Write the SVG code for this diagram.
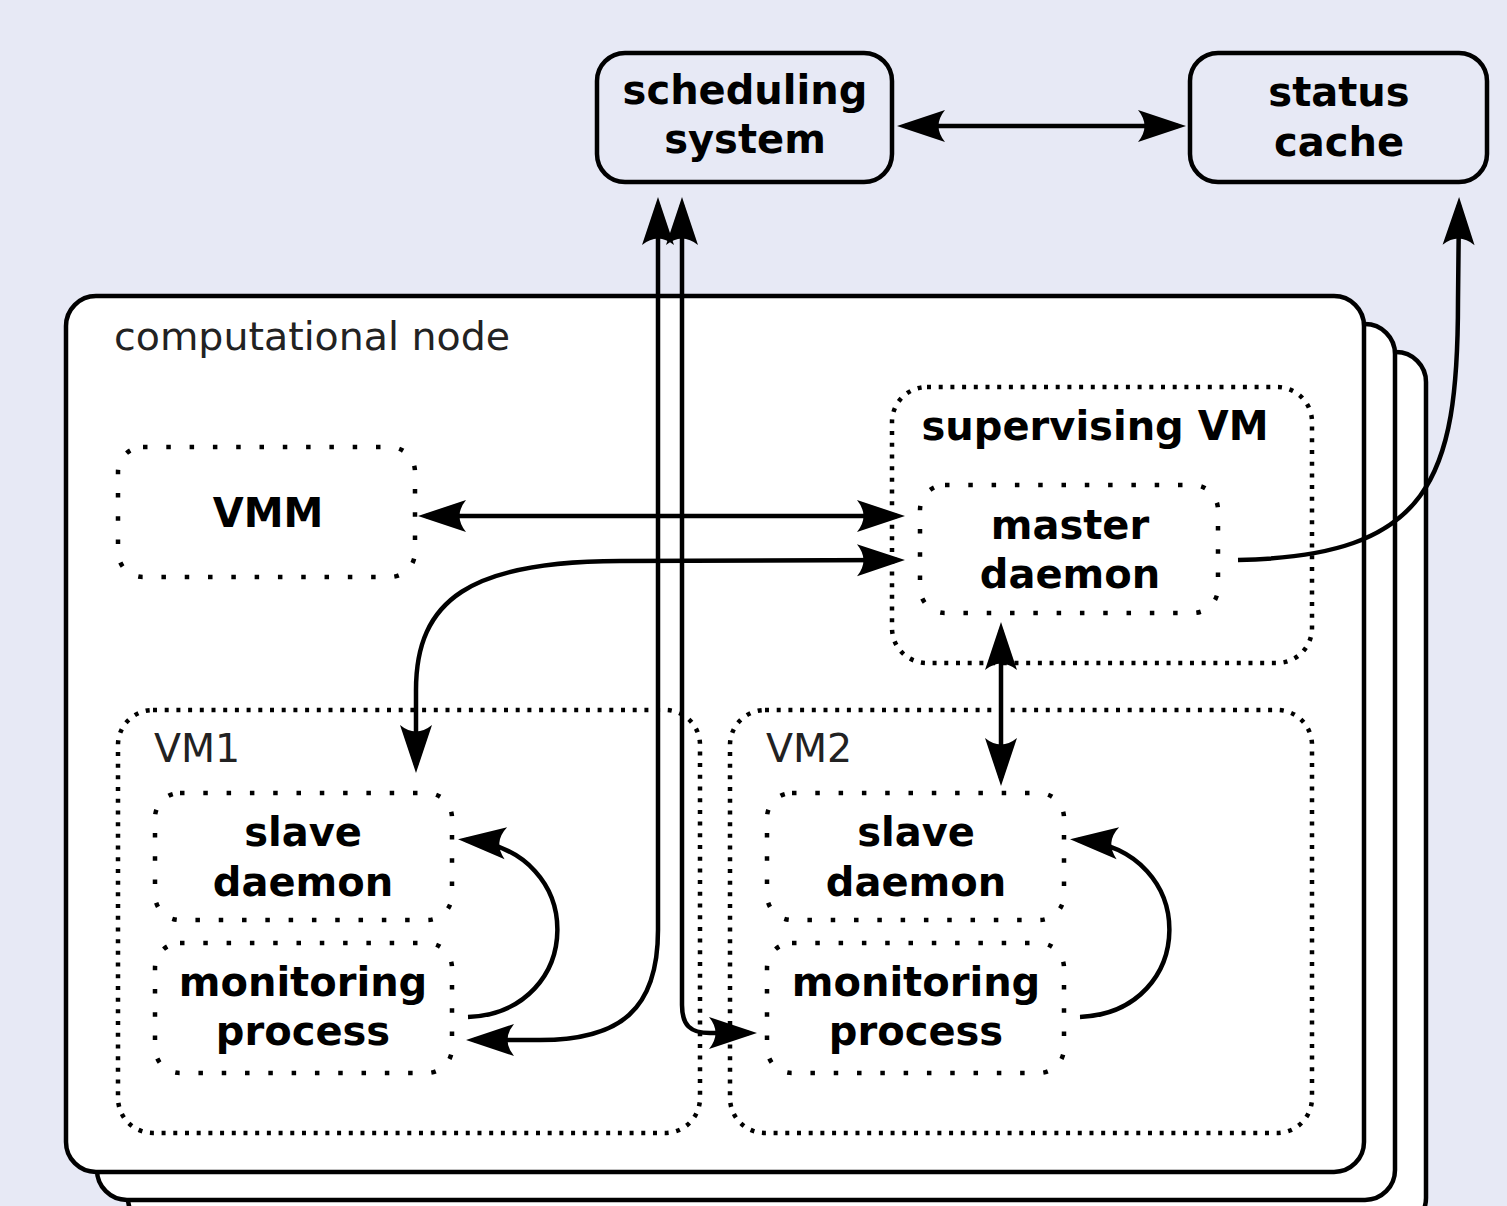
<svg xmlns="http://www.w3.org/2000/svg" width="1507" height="1206" viewBox="0 0 1507 1206">
<defs>
<style>
.bg{fill:#e7e9f5}
.solid{fill:none;stroke:#000;stroke-width:4.5}
.stack{fill:#fff;stroke:#000;stroke-width:4.5}
.dotA{fill:#fff;stroke:#000;stroke-width:4.5;stroke-dasharray:4.5 18.8}
.dotB{fill:none;stroke:#000;stroke-width:4.5;stroke-dasharray:4 7.7}
.b{font-family:"DejaVu Sans","Liberation Sans",sans-serif;font-weight:bold;font-size:40px;fill:#000;text-anchor:middle}
.n{font-family:"DejaVu Sans","Liberation Sans",sans-serif;font-size:39.5px;fill:#222}
.con{fill:none;stroke:#000;stroke-width:4.5}
</style>
<marker id="ah" markerUnits="userSpaceOnUse" markerWidth="60" markerHeight="40" viewBox="-45 -20 60 40" refX="0" refY="0" orient="auto-start-reverse" overflow="visible">
<path d="M8,0 L-40,-16 Q-27,0 -40,16 Z" fill="#000"/>
</marker>
</defs>
<rect class="bg" x="0" y="0" width="1507" height="1206"/>

<g id="scheduling-system">
<rect class="solid" x="597" y="53" width="295" height="129" rx="28"/>
<text class="b" x="745" y="104">scheduling</text>
<text class="b" x="745" y="153">system</text>
</g>
<g id="status-cache">
<rect class="solid" x="1190" y="53" width="297" height="129" rx="28"/>
<text class="b" x="1339" y="106">status</text>
<text class="b" x="1339" y="156">cache</text>
</g>

<g id="computational-node">
<rect class="stack" x="128" y="352" width="1298" height="876" rx="30"/>
<rect class="stack" x="97" y="324" width="1298" height="876" rx="30"/>
<rect class="stack" x="66" y="296" width="1298" height="876" rx="30"/>
<text class="n" x="114" y="350">computational node</text>
</g>

<g id="vmm">
<rect class="dotA" x="118" y="447" width="297" height="130" rx="25"/>
<text class="b" x="268" y="527">VMM</text>
</g>

<g id="supervising-vm">
<rect class="dotB" x="892" y="387" width="420" height="276" rx="35"/>
<text class="b" x="1095" y="440">supervising VM</text>
</g>
<g id="master-daemon">
<rect class="dotA" x="920" y="485" width="298" height="128" rx="25"/>
<text class="b" x="1070" y="539">master</text>
<text class="b" x="1070" y="588">daemon</text>
</g>

<g id="vm1">
<rect class="dotB" x="118" y="710" width="582" height="423" rx="35"/>
<text class="n" x="154" y="762">VM1</text>
</g>
<g id="vm1-slave-daemon">
<rect class="dotA" x="155" y="793" width="297" height="127" rx="25"/>
<text class="b" x="303" y="846">slave</text>
<text class="b" x="303" y="896">daemon</text>
</g>
<g id="vm1-monitoring-process">
<rect class="dotA" x="155" y="943" width="297" height="130" rx="25"/>
<text class="b" x="303" y="996">monitoring</text>
<text class="b" x="303" y="1045">process</text>
</g>

<g id="vm2">
<rect class="dotB" x="730" y="710" width="582" height="423" rx="35"/>
<text class="n" x="766" y="762">VM2</text>
</g>
<g id="vm2-slave-daemon">
<rect class="dotA" x="767" y="793" width="297" height="127" rx="25"/>
<text class="b" x="916" y="846">slave</text>
<text class="b" x="916" y="896">daemon</text>
</g>
<g id="vm2-monitoring-process">
<rect class="dotA" x="767" y="943" width="297" height="130" rx="25"/>
<text class="b" x="916" y="996">monitoring</text>
<text class="b" x="916" y="1045">process</text>
</g>

<g id="connectors">
<path class="con" d="M905,126 L1178,126" marker-start="url(#ah)" marker-end="url(#ah)"/>
<path class="con" d="M426,516 L897,516" marker-start="url(#ah)" marker-end="url(#ah)"/>
<path class="con" d="M416,765 L416,690 C416,600 470,561 620,561 L897,560" marker-start="url(#ah)" marker-end="url(#ah)"/>
<path class="con" d="M658,205 L658,930 C658,1010 620,1040 540,1040 L474,1040" marker-start="url(#ah)" marker-end="url(#ah)"/>
<path class="con" d="M682,205 L682,1005 C682,1025 690,1033 710,1033 L749,1033" marker-start="url(#ah)" marker-end="url(#ah)"/>
<path class="con" d="M1238,560 C1430,556 1458,480 1458,300 L1459,205" marker-end="url(#ah)"/>
<path class="con" d="M1001,630 L1001,778" marker-start="url(#ah)" marker-end="url(#ah)"/>
<path class="con" d="M468,1017 C585,1012 590,850 466,840" marker-end="url(#ah)"/>
<path class="con" d="M1080,1017 C1197,1012 1202,850 1078,840" marker-end="url(#ah)"/>
</g>
</svg>
